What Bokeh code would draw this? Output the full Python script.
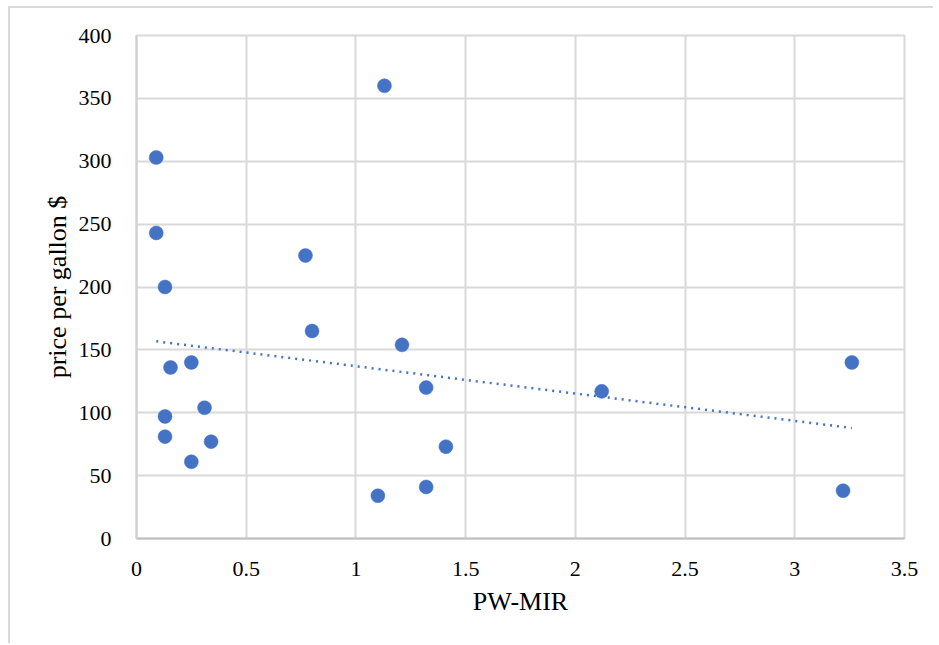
import numpy as np
from bokeh.plotting import figure
from bokeh.models import Range1d, SingleIntervalTicker
from bokeh.embed import file_html
from bokeh.resources import INLINE

pw_mir = [0.09, 0.09, 0.13, 0.155, 0.25, 0.13, 0.13, 0.31, 0.34, 0.25, 0.77,
          0.80, 1.13, 1.21, 1.32, 1.41, 1.32, 1.10, 2.12, 3.26, 3.22]
price = [303, 243, 200, 136, 140, 97, 81, 104, 77, 61, 225,
         165, 360, 154, 120, 73, 41, 34, 117, 140, 38]

x_label = "PW-MIR"
y_label = "price per gallon $"

FONT = "Liberation Serif"
GRID = "#d9d9d9"
BLUE = "#4472C4"

p = figure(width=925, height=637, output_backend="svg", toolbar_location=None,
           x_range=Range1d(0, 3.5), y_range=Range1d(0, 400),
           min_border_left=126, min_border_right=31, min_border_top=27,
           min_border_bottom=107)
p.styles = {"border-top": "2px solid #d9d9d9", "border-left": "2px solid #d9d9d9",
            "margin-left": "8px", "margin-top": "6px"}

p.outline_line_color = GRID
p.outline_line_width = 2

for ax in (p.xaxis, p.yaxis):
    ax.major_tick_line_color = None
    ax.minor_tick_line_color = None
    ax.major_tick_out = 0
    ax.major_tick_in = 0
    ax.major_label_text_font = FONT
    ax.major_label_text_font_size = "22px"
    ax.major_label_text_color = "#000000"
    ax.axis_label_text_font = FONT
    ax.axis_label_text_font_size = "26px"
    ax.axis_label_text_font_style = "normal"
    ax.axis_label_text_color = "#000000"
    ax.axis_line_width = 2

p.xaxis.axis_line_color = "#bfbfbf"
p.yaxis.axis_line_color = "#d0d0d0"
p.xaxis.ticker = SingleIntervalTicker(interval=0.5)
p.yaxis.ticker = SingleIntervalTicker(interval=50)
p.xaxis.major_label_standoff = 19
p.yaxis.major_label_standoff = 21
p.xaxis.axis_label = x_label
p.yaxis.axis_label = y_label
p.xaxis.axis_label_standoff = 8
p.yaxis.axis_label_standoff = 4

p.xgrid.grid_line_color = GRID
p.ygrid.grid_line_color = GRID
p.xgrid.grid_line_width = 2
p.ygrid.grid_line_width = 2
p.xgrid.ticker = SingleIntervalTicker(interval=0.5)
p.ygrid.ticker = SingleIntervalTicker(interval=50)

# linear trendline (least squares, as the spreadsheet does)
slope, intercept = np.polyfit(pw_mir, price, 1)
tx = [min(pw_mir), max(pw_mir)]
ty = [slope * v + intercept for v in tx]
p.line(tx, ty, line_color=BLUE, line_width=2.5, line_dash="2 5")

p.scatter(pw_mir, price, size=14, fill_color=BLUE, line_color=BLUE, line_width=0.5)

open("out.html", "w").write(file_html(p, INLINE))
